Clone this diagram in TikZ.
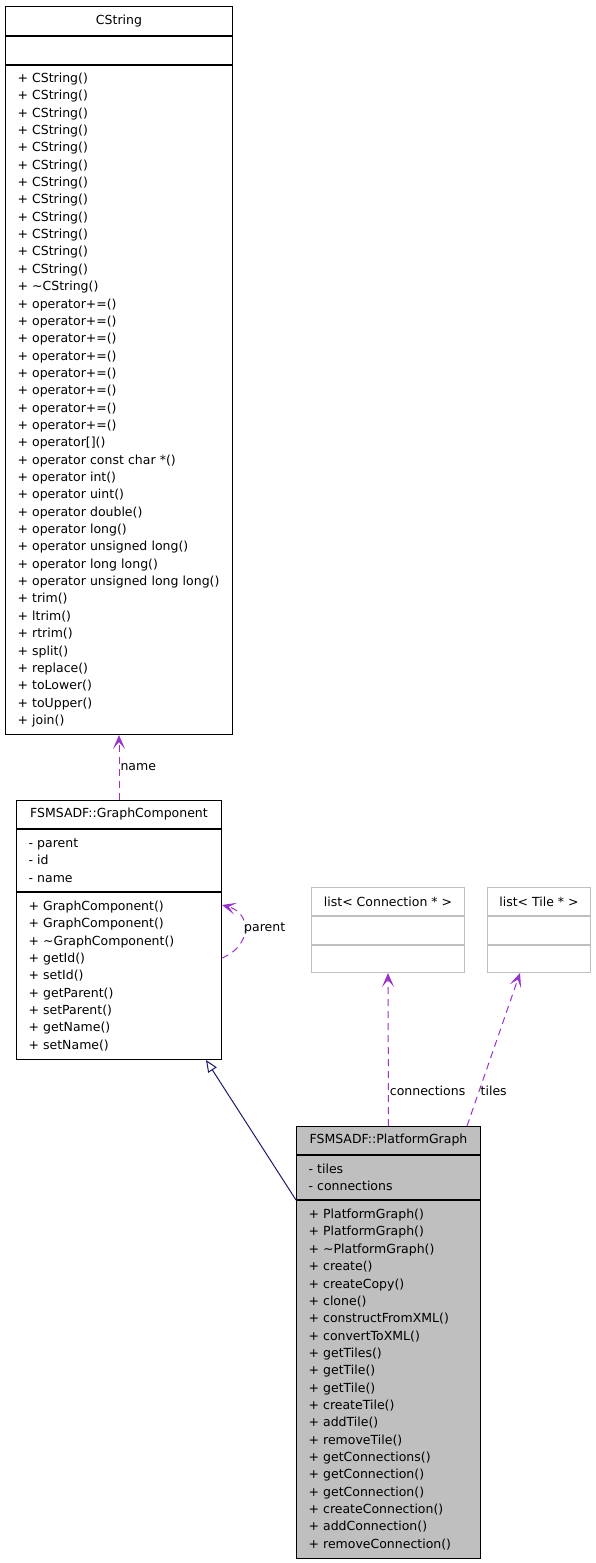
\documentclass[tikz,border=0pt]{standalone}
\usepackage{fontspec}
\setmainfont{DejaVu Sans}
\usetikzlibrary{arrows.meta,positioning}
\definecolor{doxpurple}{HTML}{9A32CD}
\definecolor{doxgray}{HTML}{BFBFBF}
\definecolor{doxnavy}{HTML}{191970}
\newcommand{\doxfont}{\fontsize{12.5pt}{17.35pt}\selectfont}
\tikzset{
  dox/title/.style={draw=black, fill=white, line width=1pt, minimum height=28pt, inner sep=0pt, align=center, font=\doxfont},
  dox/part/.style={draw=black, fill=white, line width=1pt, inner xsep=12pt, inner ysep=0pt, align=left, font=\doxfont},
  dox/faded/.style={draw=doxgray},
  dox/current/.style={fill=doxgray},
  dox/uses/.style={draw=doxpurple, dash pattern=on 7pt off 5pt, line width=1pt, -{Stealth[length=14pt,width=12pt,inset=7pt]}},
  dox/inherits/.style={draw=doxnavy, line width=1pt, -{Triangle[open,length=12pt,width=10pt]}},
  dox/label/.style={font=\doxfont, inner sep=1pt, anchor=west}
}
\begin{document}
\begin{tikzpicture}[x=1pt, y=-1pt]
\useasboundingbox (0,0) rectangle (595,1563);

% --- CString ---
\node[dox/title, minimum width=227pt, minimum height=29pt, anchor=north west] (cstr-t) at (5,6) {CString};
\node[dox/part, minimum width=227pt, minimum height=28pt, text width=203pt, below=0pt of cstr-t] (cstr-a) {};
\node[dox/part, minimum width=227pt, minimum height=669pt, text width=203pt, below=0pt of cstr-a] (cstr-m) {%
+ CString()\\ + CString()\\ + CString()\\ + CString()\\ + CString()\\ + CString()\\
+ CString()\\ + CString()\\ + CString()\\ + CString()\\ + CString()\\ + CString()\\
+ \textasciitilde CString()\\
+ operator+=()\\ + operator+=()\\ + operator+=()\\ + operator+=()\\
+ operator+=()\\ + operator+=()\\ + operator+=()\\ + operator+=()\\
+ operator[]()\\ + operator const char *()\\ + operator int()\\ + operator uint()\\
+ operator double()\\ + operator long()\\ + operator unsigned long()\\
+ operator long long()\\ + operator unsigned long long()\\
+ trim()\\ + ltrim()\\ + rtrim()\\ + split()\\ + replace()\\ + toLower()\\ + toUpper()\\ + join()};

% --- FSMSADF::GraphComponent ---
\node[dox/title, minimum width=205pt, anchor=north west] (gcomp-t) at (16,800) {FSMSADF::GraphComponent};
\node[dox/part, minimum width=205pt, minimum height=62pt, text width=181pt, below=0pt of gcomp-t] (gcomp-a) {- parent\\ - id\\ - name};
\node[dox/part, minimum width=205pt, minimum height=167pt, text width=181pt, below=0pt of gcomp-a] (gcomp-m) {%
+ GraphComponent()\\ + GraphComponent()\\ + \textasciitilde GraphComponent()\\
+ getId()\\ + setId()\\ + getParent()\\ + setParent()\\ + getName()\\ + setName()};

% --- list< Connection * > ---
\node[dox/title, dox/faded, minimum width=153pt, anchor=north west] (lconn-t) at (311,887) {list< Connection * >};
\node[dox/part, dox/faded, minimum width=153pt, minimum height=28pt, below=0pt of lconn-t] (lconn-a) {};
\node[dox/part, dox/faded, minimum width=153pt, minimum height=27pt, below=0pt of lconn-a] (lconn-m) {};

% --- list< Tile * > ---
\node[dox/title, dox/faded, minimum width=103pt, anchor=north west] (ltile-t) at (487,887) {list< Tile * >};
\node[dox/part, dox/faded, minimum width=103pt, minimum height=28pt, below=0pt of ltile-t] (ltile-a) {};
\node[dox/part, dox/faded, minimum width=103pt, minimum height=27pt, below=0pt of ltile-a] (ltile-m) {};

% --- FSMSADF::PlatformGraph ---
\node[dox/title, dox/current, minimum width=184pt, anchor=north west] (pgraph-t) at (296,1126) {FSMSADF::PlatformGraph};
\node[dox/part, dox/current, minimum width=184pt, minimum height=44pt, text width=160pt, below=0pt of pgraph-t] (pgraph-a) {- tiles\\ - connections};
\node[dox/part, dox/current, minimum width=184pt, minimum height=358pt, text width=160pt, below=0pt of pgraph-a] (pgraph-m) {%
+ PlatformGraph()\\ + PlatformGraph()\\ + \textasciitilde PlatformGraph()\\
+ create()\\ + createCopy()\\ + clone()\\ + constructFromXML()\\ + convertToXML()\\
+ getTiles()\\ + getTile()\\ + getTile()\\ + createTile()\\ + addTile()\\ + removeTile()\\
+ getConnections()\\ + getConnection()\\ + getConnection()\\
+ createConnection()\\ + addConnection()\\ + removeConnection()};

% --- relations ---
\draw[dox/uses] (gcomp-t.north) -- (cstr-m.south)
  node[dox/label, pos=0.5] {name};
\draw[dox/uses] ([yshift=18pt]gcomp-m.east) .. controls +(30,-12) and +(30,8) .. ([yshift=71pt]gcomp-m.east);
\node[dox/label] (parentlbl) at (243,928) {parent};
\draw[dox/inherits] (pgraph-a.south west) -- ([xshift=-16pt]gcomp-m.south east);
\draw[dox/uses] (pgraph-t.north) -- (lconn-m.south)
  node[dox/label, pos=0.23] {connections};
\draw[dox/uses] ([xshift=-14pt]pgraph-t.north east) -- ([xshift=-19pt]ltile-m.south)
  node[dox/label, pos=0.23] {tiles};

\end{tikzpicture}
\end{document}
